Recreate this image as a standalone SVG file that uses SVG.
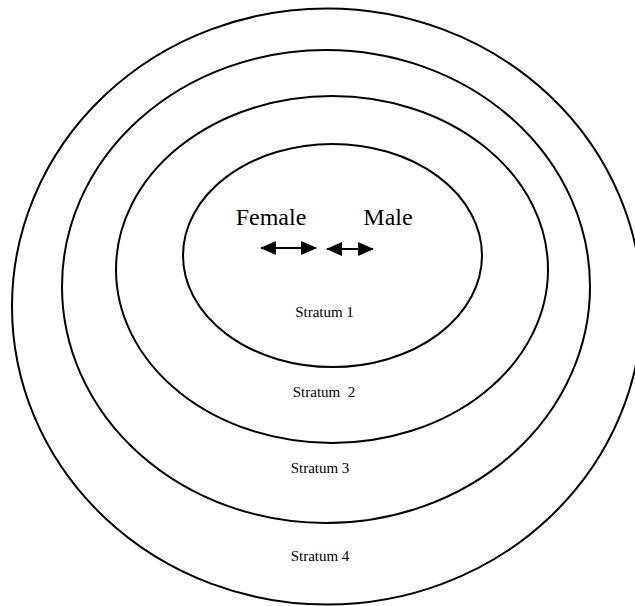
<svg xmlns="http://www.w3.org/2000/svg" width="635" height="606" viewBox="0 0 635 606">
<style>
.ring{fill:none;stroke:#000;stroke-width:2}
.lbl{font-family:"Liberation Serif","Times New Roman",serif;fill:#000;text-anchor:middle}
.big{font-size:24px}
.small{font-size:15px;white-space:pre}
.arr{stroke:#000;stroke-width:2}
</style>
<defs>
<marker id="head" markerUnits="userSpaceOnUse" markerWidth="16" markerHeight="14" refX="15" refY="7" orient="auto-start-reverse">
<path d="M0,0 L16,7 L0,14 Z" fill="#000"/>
</marker>
</defs>
<rect width="635" height="606" fill="#fff"/>
<g id="stratum4">
<ellipse class="ring" cx="327" cy="306.5" rx="315" ry="298"/>
<text class="lbl small" x="320" y="561">Stratum 4</text>
</g>
<g id="stratum3">
<ellipse class="ring" cx="326" cy="286.5" rx="264" ry="236.5"/>
<text class="lbl small" x="320" y="473">Stratum 3</text>
</g>
<g id="stratum2">
<ellipse class="ring" cx="332" cy="269.5" rx="216" ry="173.5"/>
<text class="lbl small" x="324" y="397" xml:space="preserve">Stratum  2</text>
</g>
<g id="stratum1">
<ellipse class="ring" cx="332.5" cy="255.5" rx="149.5" ry="111.5"/>
<text class="lbl small" x="324.5" y="317">Stratum 1</text>
</g>
<g id="female">
<text class="lbl big" x="271" y="225">Female</text>
</g>
<g id="male">
<text class="lbl big" x="388" y="225">Male</text>
</g>
<g id="connectors">
<line class="arr" x1="261" y1="248" x2="316" y2="248" marker-start="url(#head)" marker-end="url(#head)"/>
<line class="arr" x1="327" y1="249" x2="373" y2="249" marker-start="url(#head)" marker-end="url(#head)"/>
</g>
</svg>
